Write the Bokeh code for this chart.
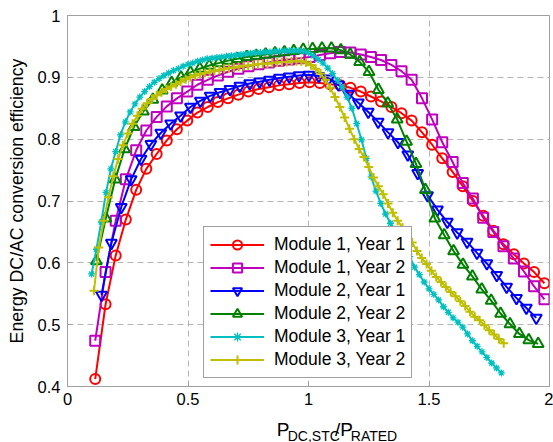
from bokeh.plotting import figure
from bokeh.layouts import column
from bokeh.models import Range1d, Legend, LegendItem, FixedTicker
from bokeh.core.properties import value
from bokeh.embed import file_html
from bokeh.resources import INLINE

# ---- data: DC/AC conversion efficiency vs normalised DC power ----
m1y1_x = [0.115, 0.158, 0.200, 0.242, 0.285, 0.327, 0.370, 0.412, 0.454, 0.497, 0.539, 0.582,
          0.624, 0.666, 0.709, 0.751, 0.793, 0.836, 0.878, 0.920, 0.963, 1.005, 1.047, 1.090,
          1.132, 1.174, 1.217, 1.259, 1.301, 1.344, 1.386, 1.428, 1.471, 1.513, 1.555, 1.598,
          1.640, 1.682, 1.725, 1.767, 1.809, 1.852, 1.894, 1.936, 1.979]
m1y1_eff = [0.412, 0.533, 0.612, 0.670, 0.718, 0.752, 0.776, 0.798, 0.816, 0.830, 0.843, 0.852,
            0.860, 0.866, 0.872, 0.877, 0.881, 0.884, 0.887, 0.889, 0.891, 0.892, 0.891, 0.889,
            0.887, 0.883, 0.877, 0.869, 0.861, 0.852, 0.842, 0.830, 0.811, 0.791, 0.769, 0.747,
            0.724, 0.700, 0.676, 0.652, 0.630, 0.614, 0.599, 0.585, 0.567]

m1y2_x = [0.115, 0.158, 0.200, 0.242, 0.285, 0.327, 0.370, 0.412, 0.454, 0.497, 0.539, 0.582,
          0.624, 0.666, 0.709, 0.751, 0.793, 0.836, 0.878, 0.920, 0.963, 1.005, 1.047, 1.090,
          1.132, 1.174, 1.217, 1.259, 1.301, 1.344, 1.386, 1.428, 1.471, 1.513, 1.555, 1.598,
          1.640, 1.682, 1.725, 1.767, 1.809, 1.852, 1.894, 1.936, 1.979]
m1y2_eff = [0.474, 0.585, 0.668, 0.735, 0.782, 0.814, 0.836, 0.853, 0.866, 0.877, 0.888, 0.896,
            0.903, 0.909, 0.914, 0.918, 0.921, 0.924, 0.927, 0.929, 0.931, 0.933, 0.936, 0.939,
            0.941, 0.940, 0.937, 0.933, 0.928, 0.920, 0.910, 0.896, 0.866, 0.832, 0.795, 0.763,
            0.729, 0.704, 0.673, 0.650, 0.627, 0.607, 0.586, 0.562, 0.541]

m2y1_x = [0.141, 0.182, 0.223, 0.264, 0.305, 0.346, 0.387, 0.428, 0.469, 0.510, 0.551, 0.592,
          0.633, 0.674, 0.715, 0.756, 0.797, 0.838, 0.879, 0.920, 0.961, 1.002, 1.043, 1.084,
          1.125, 1.166, 1.207, 1.248, 1.289, 1.330, 1.371, 1.412, 1.453, 1.494, 1.535, 1.576,
          1.617, 1.658, 1.699, 1.740, 1.781, 1.822, 1.863, 1.904, 1.945]
m2y1_eff = [0.548, 0.632, 0.690, 0.735, 0.768, 0.792, 0.810, 0.825, 0.838, 0.852, 0.862, 0.870,
            0.876, 0.881, 0.886, 0.890, 0.893, 0.896, 0.899, 0.901, 0.903, 0.904, 0.902, 0.898,
            0.888, 0.873, 0.859, 0.844, 0.828, 0.811, 0.795, 0.775, 0.745, 0.709, 0.686, 0.666,
            0.649, 0.634, 0.616, 0.599, 0.580, 0.561, 0.543, 0.527, 0.511]

m2y2_x = [0.120, 0.159, 0.198, 0.237, 0.276, 0.315, 0.354, 0.393, 0.432, 0.471, 0.510, 0.549,
          0.588, 0.627, 0.666, 0.705, 0.744, 0.783, 0.822, 0.861, 0.900, 0.939, 0.978, 1.017,
          1.056, 1.095, 1.134, 1.173, 1.212, 1.251, 1.290, 1.329, 1.368, 1.407, 1.446, 1.485,
          1.524, 1.563, 1.602, 1.641, 1.680, 1.719, 1.758, 1.797, 1.836, 1.875, 1.914, 1.953]
m2y2_eff = [0.603, 0.672, 0.735, 0.784, 0.820, 0.845, 0.864, 0.879, 0.891, 0.900, 0.908, 0.914,
            0.919, 0.923, 0.927, 0.930, 0.933, 0.935, 0.937, 0.939, 0.941, 0.943, 0.945, 0.946,
            0.947, 0.947, 0.944, 0.937, 0.925, 0.909, 0.880, 0.858, 0.832, 0.796, 0.760, 0.718,
            0.672, 0.645, 0.619, 0.597, 0.578, 0.557, 0.539, 0.518, 0.501, 0.485, 0.475, 0.469]

m3y1_x = [0.10, 0.12, 0.14, 0.16, 0.18, 0.20, 0.22, 0.24, 0.26, 0.28, 0.30, 0.32, 0.34, 0.36,
          0.38, 0.40, 0.42, 0.44, 0.46, 0.48, 0.50, 0.52, 0.54, 0.56, 0.58, 0.60, 0.62, 0.64,
          0.66, 0.68, 0.70, 0.72, 0.74, 0.76, 0.78, 0.80, 0.82, 0.84, 0.86, 0.88, 0.90, 0.92,
          0.94, 0.96, 0.98, 1.00, 1.02, 1.04, 1.06, 1.08, 1.10, 1.12, 1.14, 1.16, 1.18, 1.20,
          1.22, 1.24, 1.26, 1.28, 1.30, 1.32, 1.34, 1.36, 1.38, 1.40, 1.42, 1.44, 1.46, 1.48,
          1.50, 1.52, 1.54, 1.56, 1.58, 1.60, 1.62, 1.64, 1.66, 1.68, 1.70, 1.72, 1.74, 1.76,
          1.78, 1.80]
m3y1_eff = [0.582, 0.622, 0.666, 0.714, 0.752, 0.780, 0.807, 0.828, 0.844, 0.857, 0.868, 0.877,
            0.885, 0.892, 0.898, 0.903, 0.907, 0.911, 0.914, 0.918, 0.921, 0.923, 0.926, 0.928,
            0.930, 0.931, 0.932, 0.933, 0.934, 0.935, 0.936, 0.937, 0.938, 0.939, 0.940, 0.940,
            0.941, 0.941, 0.942, 0.942, 0.943, 0.943, 0.943, 0.943, 0.942, 0.940, 0.935, 0.929,
            0.923, 0.915, 0.906, 0.895, 0.884, 0.868, 0.850, 0.825, 0.799, 0.769, 0.739, 0.716,
            0.696, 0.679, 0.664, 0.653, 0.641, 0.627, 0.610, 0.593, 0.581, 0.569, 0.558, 0.549,
            0.540, 0.529, 0.520, 0.511, 0.504, 0.496, 0.485, 0.474, 0.465, 0.456, 0.447, 0.438,
            0.430, 0.422]

m3y2_x = [0.11, 0.13, 0.15, 0.17, 0.19, 0.21, 0.23, 0.25, 0.27, 0.29, 0.31, 0.33, 0.35, 0.37,
          0.39, 0.41, 0.43, 0.45, 0.47, 0.49, 0.51, 0.53, 0.55, 0.57, 0.59, 0.61, 0.63, 0.65,
          0.67, 0.69, 0.71, 0.73, 0.75, 0.77, 0.79, 0.81, 0.83, 0.85, 0.87, 0.89, 0.91, 0.93,
          0.95, 0.97, 0.99, 1.01, 1.03, 1.05, 1.07, 1.09, 1.11, 1.13, 1.15, 1.17, 1.19, 1.21,
          1.23, 1.25, 1.27, 1.29, 1.31, 1.33, 1.35, 1.37, 1.39, 1.41, 1.43, 1.45, 1.47, 1.49,
          1.51, 1.53, 1.55, 1.57, 1.59, 1.61, 1.63, 1.65, 1.67, 1.69, 1.71, 1.73, 1.75, 1.77,
          1.79, 1.81]
m3y2_eff = [0.555, 0.625, 0.668, 0.706, 0.740, 0.768, 0.790, 0.809, 0.825, 0.838, 0.849, 0.858,
            0.865, 0.871, 0.876, 0.881, 0.885, 0.889, 0.893, 0.897, 0.900, 0.903, 0.905, 0.907,
            0.909, 0.911, 0.912, 0.914, 0.915, 0.916, 0.917, 0.918, 0.919, 0.920, 0.921, 0.922,
            0.922, 0.923, 0.924, 0.925, 0.925, 0.926, 0.926, 0.926, 0.924, 0.920, 0.914, 0.906,
            0.896, 0.883, 0.868, 0.852, 0.835, 0.817, 0.800, 0.784, 0.771, 0.755, 0.738, 0.724,
            0.711, 0.696, 0.681, 0.668, 0.657, 0.646, 0.633, 0.619, 0.608, 0.598, 0.587, 0.577,
            0.569, 0.561, 0.553, 0.546, 0.538, 0.530, 0.521, 0.513, 0.507, 0.499, 0.491, 0.484,
            0.477, 0.470]

series_names = ["Module 1, Year 1", "Module 1, Year 2", "Module 2, Year 1",
                "Module 2, Year 2", "Module 3, Year 1", "Module 3, Year 2"]
x_ticks = [0, 0.5, 1, 1.5, 2]
y_ticks = [0.4, 0.5, 0.6, 0.7, 0.8, 0.9, 1.0]
y_title = "Energy DC/AC conversion efficiency"

# x title pieces: P_DC,STC / P_RATED (main text and subscripts)
xt_text = ["P", "DC,STC", "/P", "RATED"]
xt_size = ["19px", "14px", "19px", "14px"]

FONT = "Liberation Sans"
W = 553
MAIN_H = 412
TITLE_H = 30

p = figure(width=W, height=MAIN_H, output_backend="svg", toolbar_location=None,
           x_range=Range1d(0, 2), y_range=Range1d(0.4, 1.0))
p.min_border_left = 67
p.min_border_right = 4
p.min_border_top = 15
p.min_border_bottom = 26
p.background_fill_color = "white"
p.border_fill_color = "white"
p.outline_line_color = "#a0a0a0"
p.outline_line_width = 1

box_grey = "#a0a0a0"
for ax in (p.xaxis[0], p.yaxis[0]):
    ax.axis_line_color = box_grey
    ax.major_tick_line_color = box_grey
    ax.major_tick_in = 5
    ax.major_tick_out = 0
    ax.minor_tick_line_color = None
    ax.major_label_text_font = FONT
    ax.major_label_text_font_size = "16.5px"
    ax.major_label_text_color = "#000000"

p.xaxis[0].ticker = FixedTicker(ticks=x_ticks)
p.yaxis[0].ticker = FixedTicker(ticks=y_ticks)
p.xaxis[0].major_label_overrides = {0: "0", 0.5: "0.5", 1: "1", 1.5: "1.5", 2: "2"}
p.yaxis[0].major_label_overrides = {1.0: "1"}
p.xaxis[0].major_label_standoff = 6
p.yaxis[0].major_label_standoff = 7

p.yaxis[0].axis_label = y_title
p.yaxis[0].axis_label_text_font = FONT
p.yaxis[0].axis_label_text_font_size = "17.7px"
p.yaxis[0].axis_label_text_font_style = "normal"
p.yaxis[0].axis_label_text_color = "#000000"
p.yaxis[0].axis_label_standoff = 8

for g in (p.xgrid[0], p.ygrid[0]):
    g.grid_line_color = "#b4b4b4"
    g.grid_line_dash = "6 4"
    g.grid_line_width = 1
p.xgrid[0].ticker = FixedTicker(ticks=x_ticks)
p.ygrid[0].ticker = FixedTicker(ticks=y_ticks)

# colour, marker, marker size, marker line width
styles = [
    (m1y1_x, m1y1_eff, "#ff0000", "circle", 10, 2),
    (m1y2_x, m1y2_eff, "#bf00bf", "square", 10, 2),
    (m2y1_x, m2y1_eff, "#0000ff", "inverted_triangle", 11, 2),
    (m2y2_x, m2y2_eff, "#008000", "triangle", 11, 2),
    (m3y1_x, m3y1_eff, "#00bfbf", "asterisk", 7, 1.3),
    (m3y2_x, m3y2_eff, "#bfbf00", "cross", 9, 2),
]

items = []
for name, (xs, ys, col, mk, sz, mlw) in zip(series_names, styles):
    ln = p.line(xs, ys, line_color=col, line_width=2)
    sc = p.scatter(xs, ys, marker=mk, size=sz, line_color=col, fill_color=None, line_width=mlw)
    items.append(LegendItem(label=name, renderers=[ln, sc]))

legend = Legend(items=items, location=(136, 8))
legend.margin = 0
legend.padding = 6
legend.spacing = 0
legend.glyph_width = 54
legend.glyph_height = 23
legend.label_height = 23
legend.label_standoff = 10
legend.label_text_font = FONT
legend.label_text_font_size = "17.5px"
legend.label_text_color = "#000000"
legend.border_line_color = "#404040"
legend.border_line_width = 1
legend.background_fill_color = "white"
legend.background_fill_alpha = 1.0
p.add_layout(legend)

# strip under the axes carrying the x title with its subscripts (pixel coordinates)
t = figure(width=W, height=TITLE_H, output_backend="svg", toolbar_location=None,
           x_range=Range1d(0, W), y_range=Range1d(0, TITLE_H))
t.min_border_left = 0
t.min_border_right = 0
t.min_border_top = 0
t.min_border_bottom = 0
t.axis.visible = False
t.grid.visible = False
t.outline_line_color = None
t.background_fill_color = "white"
t.border_fill_color = "white"

xt_px = [240.0, 252.7, 307.0, 325.0]
xt_base = [13, 7, 13, 7]
for txt, px, py, fs in zip(xt_text, xt_px, xt_base, xt_size):
    t.text(x=[px], y=[py], text=[txt], text_font=value(FONT), text_font_size=fs,
           text_color="#000000", text_align="left", text_baseline="alphabetic")

layout = column(p, t, spacing=0)
open("out.html", "w").write(file_html(layout, INLINE))
